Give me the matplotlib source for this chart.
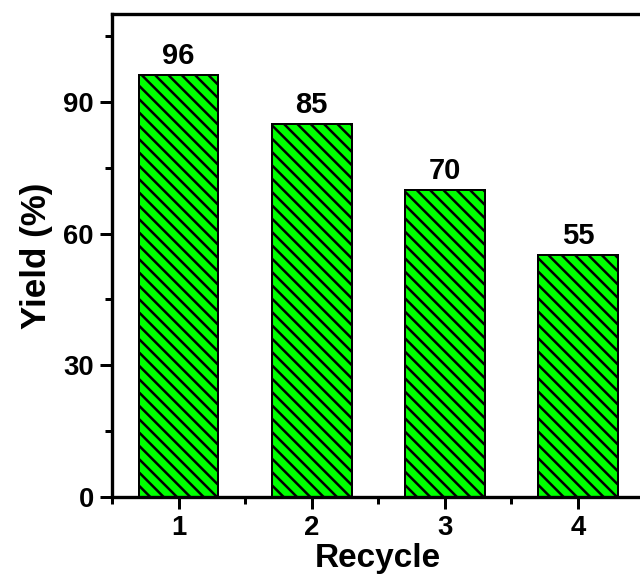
import matplotlib.pyplot as plt
from matplotlib.ticker import MultipleLocator

# Recycling test data
cycles = [1, 2, 3, 4]
yields = [96, 85, 70, 55]

plt.rcParams["font.family"] = ["Liberation Sans", "DejaVu Sans"]
plt.rcParams["font.weight"] = "bold"
plt.rcParams["hatch.linewidth"] = 1.5
plt.rcParams["hatch.color"] = "black"

fig = plt.figure(figsize=(640 / 120, 578 / 120), dpi=120)
ax = fig.add_axes([0.175, 0.14, 0.832, 0.836])

bars = ax.bar(cycles, yields, width=0.6, color="#00ff00", edgecolor="black",
              linewidth=1.2, hatch="\\\\\\")

for x, y in zip(cycles, yields):
    ax.annotate(str(y), (x, y), xytext=(0, 3), textcoords="offset points",
                ha="center", va="bottom", fontsize=17.5, fontweight="bold")

ax.set_xlim(0.5, 4.5)
ax.set_ylim(0, 110)
ax.set_xticks(cycles)
ax.xaxis.set_minor_locator(MultipleLocator(0.5))
ax.yaxis.set_major_locator(MultipleLocator(30))
ax.yaxis.set_minor_locator(MultipleLocator(15))

ax.tick_params(which="major", direction="out", length=7, width=1.8,
               labelsize=16.5, pad=4)
ax.tick_params(which="minor", direction="out", length=4, width=1.8)
ax.tick_params(top=False, right=False, which="both")

for side in ["left", "bottom", "top", "right"]:
    ax.spines[side].set_linewidth(2.0)

ax.set_xlabel("Recycle", fontsize=20, fontweight="bold", labelpad=1)
ax.set_ylabel("Yield (%)", fontsize=21, fontweight="bold", labelpad=6)

plt.savefig("out.png", dpi=120)
